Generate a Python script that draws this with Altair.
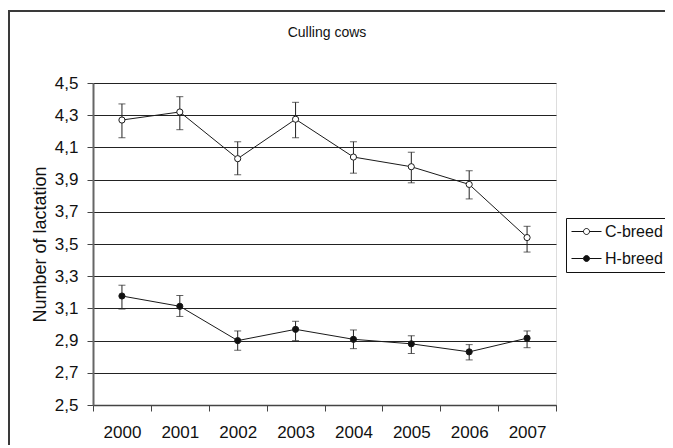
import altair as alt
import pandas as pd

# ---- data ----
years = ["2000", "2001", "2002", "2003", "2004", "2005", "2006", "2007"]
series_names = ["C-breed", "H-breed"]
c_mean = [4.27, 4.32, 4.03, 4.275, 4.04, 3.98, 3.87, 3.54]
c_lo = [4.16, 4.21, 3.93, 4.16, 3.94, 3.88, 3.78, 3.45]
c_hi = [4.37, 4.415, 4.135, 4.38, 4.135, 4.07, 3.955, 3.61]
h_mean = [3.177, 3.113, 2.90, 2.97, 2.908, 2.88, 2.83, 2.915]
h_lo = [3.096, 3.05, 2.84, 2.90, 2.85, 2.82, 2.78, 2.856]
h_hi = [3.244, 3.18, 2.96, 3.02, 2.966, 2.93, 2.875, 2.96]
y_ticks = [2.5, 2.7, 2.9, 3.1, 3.3, 3.5, 3.7, 3.9, 4.1, 4.3, 4.5]
title_text = ["Culling cows"]

rows = []
for name, m, lo, hi in [("C-breed", c_mean, c_lo, c_hi), ("H-breed", h_mean, h_lo, h_hi)]:
    for yr, a, b, c in zip(years, m, lo, hi):
        rows.append({"series": name, "year": yr, "mean": a, "lo": b, "hi": c})
df = pd.DataFrame(rows)

FONT = "Liberation Sans"
W, H = 463, 322

x_enc = alt.X(
    "year:N",
    sort=years,
    scale=alt.Scale(type="band", paddingInner=0, paddingOuter=0),
    axis=alt.Axis(
        title=None,
        tickBand="extent",
        labelAngle=0,
        labelFont=FONT,
        labelFontSize=17,
        labelColor="#111",
        labelBaseline="alphabetic",
        labelPadding=26,
        tickSize=6,
        tickColor="#444",
        domainColor="#444",
        domainWidth=1.5,
        grid=False,
    ),
)
y_scale = alt.Scale(domain=[2.5, 4.5], nice=False, zero=False)
y_axis = alt.Axis(
    title="Number of lactation",
    titleFont=FONT,
    titleFontSize=18,
    titleFontWeight="normal",
    titleColor="#111",
    titleAngle=-90,
    titleX=-48,
    titleY=H / 2,
    titleAlign="center",
    titleBaseline="alphabetic",
    values=y_ticks,
    tickCount=11,
    labelOverlap=False,
    labelExpr="replace(format(datum.value, '.1f'), '.', ',')",
    labelFont=FONT,
    labelFontSize=17,
    labelColor="#111",
    labelPadding=9,
    tickSize=6,
    tickColor="#444",
    domainColor="#666",
    domainWidth=2,
    grid=True,
    gridColor="#222",
    gridWidth=1,
)

base = alt.Chart(df)

frame = alt.Chart(pd.DataFrame({"f": [0]})).mark_rect(
    fill=None, stroke="#3a3a3a", strokeWidth=2
).encode(
    x=alt.value(-84), x2=alt.value(700), y=alt.value(-72), y2=alt.value(450)
)

title_layer = alt.Chart(pd.DataFrame({"t": title_text})).mark_text(
    font=FONT,
    fontSize=14,
    color="#111",
    align="center",
    baseline="alphabetic",
).encode(text="t:N", x=alt.value(234), y=alt.value(-46))

grid_layer = base.mark_line(opacity=0).encode(
    x=x_enc, y=alt.Y("mean:Q", scale=y_scale, axis=y_axis), detail="series:N"
)

err_rule = base.mark_rule(color="#222", strokeWidth=1).encode(
    x=alt.X("year:N", sort=years), y=alt.Y("lo:Q"), y2="hi:Q"
)
err_lo = base.mark_tick(color="#222", size=7, thickness=1).encode(
    x=alt.X("year:N", sort=years), y=alt.Y("lo:Q")
)
err_hi = base.mark_tick(color="#222", size=7, thickness=1).encode(
    x=alt.X("year:N", sort=years), y=alt.Y("hi:Q")
)

line = base.mark_line(color="#1a1a1a", strokeWidth=1).encode(
    x=alt.X("year:N", sort=years), y=alt.Y("mean:Q"), detail="series:N"
)

sym_path = "M-1,0H-0.2M0.2,0H1M0.2,0A0.2,0.2,0,1,1,-0.2,0A0.2,0.2,0,1,1,0.2,0Z"

points = base.mark_point(
    shape="circle", filled=True, stroke="#1a1a1a", strokeWidth=1, size=38, opacity=1
).encode(
    x=alt.X("year:N", sort=years),
    y=alt.Y("mean:Q"),
    fill=alt.Fill(
        "series:N",
        scale=alt.Scale(domain=series_names, range=["white", "#111"]),
        legend=alt.Legend(
            title=None,
            orient="none",
            legendX=473,
            legendY=135,
            strokeColor="#111",
            fillColor="white",
            padding=5,
            symbolType=sym_path,
            symbolSize=900,
            symbolStrokeColor="#111",
            symbolStrokeWidth=1,
            symbolOpacity=1,
            labelFont=FONT,
            labelFontSize=16,
            labelColor="#111",
            labelOffset=3,
            clipHeight=17,
            rowPadding=10,
        ),
    ),
)

chart = alt.layer(frame, title_layer, grid_layer, err_rule, err_lo, err_hi, line, points).properties(
    width=W,
    height=H,
    autosize=alt.AutoSizeParams(type="none"),
    padding={"left": 85, "top": 75, "right": 109, "bottom": 40},
).configure_view(stroke="#b5b5b5", strokeWidth=2).configure(background="white")

chart.save("out.html", embed_options={"renderer": "svg", "actions": False})
